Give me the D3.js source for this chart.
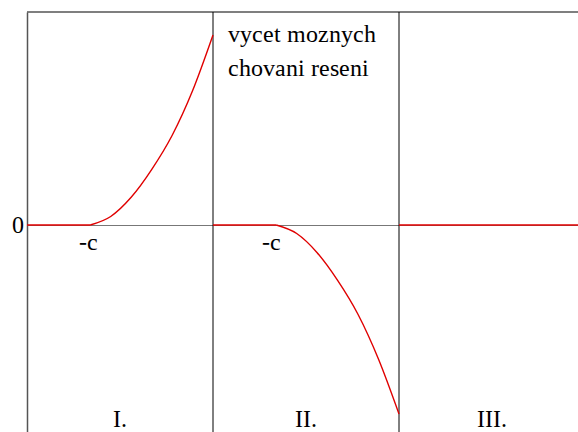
<!DOCTYPE html>
<html>
<head>
<meta charset="utf-8">
<script src="https://cdn.jsdelivr.net/npm/d3@7"></script>
<style>
  @font-face {
    font-family: "ChartSerif";
    src: local("Liberation Serif"), local("LiberationSerif"), local("LiberationSerif-Regular"), local("Tinos"), local("Times New Roman");
  }
  body { margin: 0; }
  svg text { font-family: "ChartSerif", "Liberation Serif", Tinos, "Times New Roman", serif; }
</style>
</head>
<body>
<svg id="chart" width="578" height="432"></svg>
<script>
const SERIF = '"ChartSerif", "Liberation Serif", Tinos, "Times New Roman", serif';

// Three regimes of the solution, separated at x = 1 and x = 2
const regionBounds = [0, 1, 2, 3];
const regionLabels = ["I.", "II.", "III."];
const cTicks = [0.34, 1.34];
const cLabel = "-c";
const yTicks = [0];

// Region I: zero up to -c, then growing
const seriesIx = [0, 0.34, 0.45, 0.56, 0.67, 0.78, 0.89, 1.0];
const seriesIy = [0, 0, 0.04, 0.13, 0.26, 0.42, 0.63, 0.892];
// Region II: zero up to -c, then decreasing
const seriesIIx = [1.0, 1.34, 1.45, 1.56, 1.67, 1.78, 1.89, 2.0];
const seriesIIy = [0, 0, -0.04, -0.13, -0.26, -0.42, -0.63, -0.887];
// Region III: identically zero
const seriesIIIx = [2.0, 3.0];
const seriesIIIy = [0, 0];

const noteLines = ["vycet moznych", "chovani reseni"];

function draw() {
  const svg = d3.select("#chart");
  svg.selectAll("*").remove();
  const W = 578, H = 432;

  const x = d3.scaleLinear().domain([0, 3]).range([27, 585]);
  const y = d3.scaleLinear().domain([-1, 1]).range([438, 12]);

  const serifText = sel => sel
    .style("font-family", SERIF)
    .attr("font-size", 24)
    .attr("fill", "#000");

  // top frame line
  svg.append("line")
    .attr("x1", x(0)).attr("x2", W)
    .attr("y1", y(1)).attr("y2", y(1))
    .attr("stroke", "#555").attr("stroke-width", 1.5);

  // left axis with the single "0" tick
  const yAxis = svg.append("g")
    .attr("transform", `translate(${x(0)},0)`)
    .call(d3.axisLeft(y).tickValues(yTicks).tickSize(0).tickSizeOuter(0).tickPadding(3).tickFormat(d3.format("d")));
  yAxis.attr("font-family", null).attr("font-size", null);
  yAxis.select(".domain").attr("stroke", "#555").attr("stroke-width", 1.5);
  yAxis.selectAll("text").call(serifText).attr("dy", "0.32em");

  // zero line with the -c marks
  const xAxis = svg.append("g")
    .attr("transform", `translate(0,${y(0)})`)
    .call(d3.axisBottom(x).tickValues(cTicks).tickSize(0).tickSizeOuter(0).tickPadding(8).tickFormat(() => cLabel));
  xAxis.attr("font-family", null).attr("font-size", null);
  xAxis.select(".domain").attr("stroke", "#777").attr("stroke-width", 1);
  xAxis.selectAll("text").call(serifText)
    .attr("dx", (d, i) => i === 0 ? -2 : -5);

  // region dividers
  svg.selectAll("line.divider")
    .data(regionBounds.slice(1, 3))
    .join("line")
    .attr("class", "divider")
    .attr("x1", d => x(d)).attr("x2", d => x(d))
    .attr("y1", y(1)).attr("y2", H)
    .attr("stroke", "#000").attr("stroke-width", 1);

  // solution curves: flat part straight, rising/falling part smooth
  const flat = d3.line().x(d => x(d[0])).y(d => y(d[1]));
  const smooth = d3.line().x(d => x(d[0])).y(d => y(d[1])).curve(d3.curveMonotoneX);

  const series = [
    d3.zip(seriesIx, seriesIy),
    d3.zip(seriesIIx, seriesIIy),
    d3.zip(seriesIIIx, seriesIIIy)
  ];

  const pieces = [];
  series.forEach(pts => {
    const k = pts.findIndex((p, i) => i > 0 && p[1] !== 0);
    if (k < 0) { pieces.push(flat(pts)); return; }
    pieces.push(flat(pts.slice(0, k)));
    pieces.push(smooth(pts.slice(k - 1)));
  });

  svg.selectAll("path.curve")
    .data(pieces)
    .join("path")
    .attr("class", "curve")
    .attr("d", d => d)
    .attr("fill", "none")
    .attr("stroke", "#e00000")
    .attr("stroke-width", 1.4);

  // region labels
  svg.selectAll("text.region")
    .data(regionLabels)
    .join("text")
    .attr("class", "region")
    .attr("x", (d, i) => (x(regionBounds[i]) + x(regionBounds[i + 1])) / 2)
    .attr("y", 427)
    .attr("text-anchor", "middle")
    .call(serifText)
    .text(d => d);

  // note in region II
  svg.selectAll("text.note")
    .data(noteLines)
    .join("text")
    .attr("class", "note")
    .attr("x", 228)
    .attr("y", (d, i) => 42 + i * 34)
    .call(serifText)
    .text(d => d);
}

draw();
if (document.fonts && document.fonts.load) {
  Promise.all([
    document.fonts.load('24px "ChartSerif"'),
    document.fonts.load('24px "Liberation Serif"')
  ]).then(draw, draw);
}
</script>
</body>
</html>
